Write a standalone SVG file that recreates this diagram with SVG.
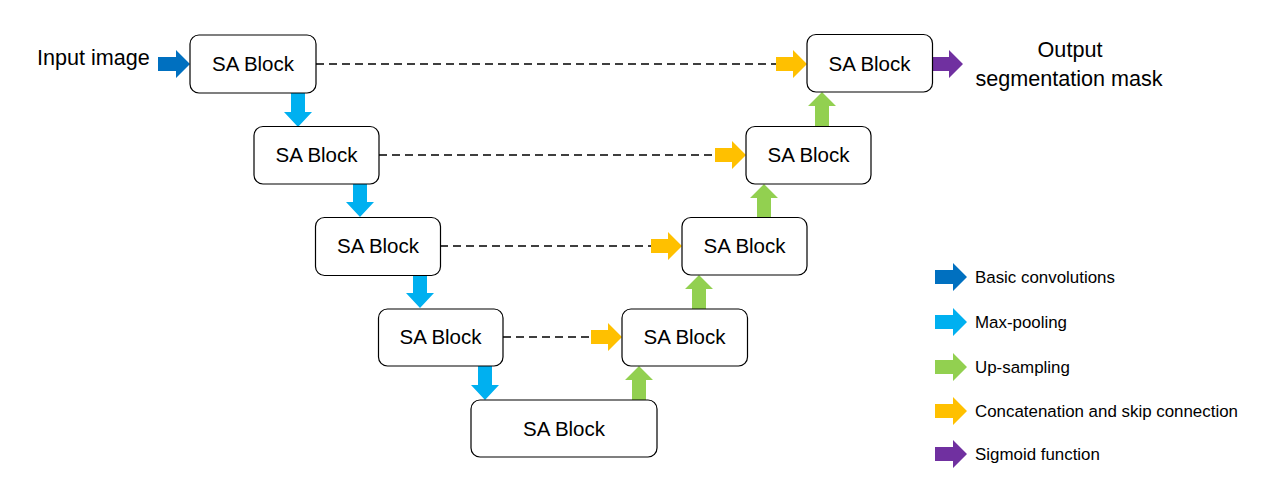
<svg xmlns="http://www.w3.org/2000/svg" width="1280" height="487" viewBox="0 0 1280 487">
<style>
.box{fill:#fff;stroke:#000;stroke-width:1.2}
.lbl{font-family:"Liberation Sans",Arial,sans-serif;font-size:20.5px;fill:#000;text-anchor:middle}
.txt{font-family:"Liberation Sans",Arial,sans-serif;font-size:21.6px;fill:#000}
.leg{font-family:"Liberation Sans",Arial,sans-serif;font-size:16.9px;fill:#000}
.dash{stroke:#000;stroke-width:1.6;stroke-dasharray:8 5;fill:none}
.conv{fill:#0070C0}.pool{fill:#00B0F0}.up{fill:#92D050}.cat{fill:#FFC000}.sig{fill:#7030A0}
</style>
<rect width="1280" height="487" fill="#fff"/>
<g id="connectors">
<line class="dash" x1="316" y1="64" x2="776" y2="64"/>
<line class="dash" x1="379" y1="155" x2="715" y2="155"/>
<line class="dash" x1="440" y1="246" x2="651" y2="246"/>
<line class="dash" x1="503" y1="337" x2="591" y2="337"/>
<polygon class="conv" points="158,57 176,57 176,50 190,64 176,78 176,71 158,71"/>
<polygon class="pool" points="291,93 305,93 305,112 312,112 298,127 284,112 291,112"/>
<polygon class="pool" points="353,184 367,184 367,202 374,202 360,217 346,202 353,202"/>
<polygon class="pool" points="413,276 427,276 427,293 434,293 420,308 406,293 413,293"/>
<polygon class="pool" points="478,366 492,366 492,385 499,385 485,400 471,385 478,385"/>
<polygon class="up" points="632,400 646,400 646,380 653,380 639,366 625,380 632,380"/>
<polygon class="up" points="692,309 706,309 706,289 713,289 699,275 685,289 692,289"/>
<polygon class="up" points="757,218 771,218 771,198 778,198 764,184 750,198 757,198"/>
<polygon class="up" points="815,127 829,127 829,106 836,106 822,92 808,106 815,106"/>
<polygon class="cat" points="776,57 793,57 793,50 807,64 793,78 793,71 776,71"/>
<polygon class="cat" points="715,148 732,148 732,141 746,155 732,169 732,162 715,162"/>
<polygon class="cat" points="651,239 668,239 668,232 682,246 668,260 668,253 651,253"/>
<polygon class="cat" points="591,330 608,330 608,323 622,337 608,351 608,344 591,344"/>
<polygon class="sig" points="932,57 949,57 949,50 963,64 949,78 949,71 932,71"/>
</g>
<g id="enc1"><rect class="box" x="190" y="35" width="126" height="58" rx="9"/><text class="lbl" x="253" y="71">SA Block</text></g>
<g id="enc2"><rect class="box" x="254" y="126.5" width="125" height="57.5" rx="9"/><text class="lbl" x="316.5" y="162">SA Block</text></g>
<g id="enc3"><rect class="box" x="315.5" y="217.5" width="125" height="58" rx="9"/><text class="lbl" x="378" y="253">SA Block</text></g>
<g id="enc4"><rect class="box" x="378.5" y="309" width="124.5" height="57" rx="9"/><text class="lbl" x="440.5" y="344">SA Block</text></g>
<g id="bottleneck"><rect class="box" x="471" y="400" width="186" height="57" rx="9"/><text class="lbl" x="564" y="435.5">SA Block</text></g>
<g id="dec4"><rect class="box" x="622" y="309" width="125.5" height="57" rx="9"/><text class="lbl" x="684.5" y="344">SA Block</text></g>
<g id="dec3"><rect class="box" x="682" y="217.5" width="125" height="57.5" rx="9"/><text class="lbl" x="744.5" y="253">SA Block</text></g>
<g id="dec2"><rect class="box" x="746" y="126.5" width="125" height="57.5" rx="9"/><text class="lbl" x="808.5" y="162">SA Block</text></g>
<g id="dec1"><rect class="box" x="807" y="34.5" width="125.5" height="57.5" rx="9"/><text class="lbl" x="869.5" y="70.5">SA Block</text></g>
<g id="input"><text class="txt" x="37" y="65">Input image</text></g>
<g id="output"><text class="txt" x="1070" y="57" text-anchor="middle">Output</text><text class="txt" x="1069" y="86" text-anchor="middle">segmentation mask</text></g>
<g id="legend">
<polygon class="conv" points="935,270 953,270 953,263 967,277 953,291 953,284 935,284"/>
<text class="leg" x="975" y="283">Basic convolutions</text>
<polygon class="pool" points="935,315 953,315 953,308 967,322 953,336 953,329 935,329"/>
<text class="leg" x="975" y="328">Max-pooling</text>
<polygon class="up" points="935,360 953,360 953,353 967,367 953,381 953,374 935,374"/>
<text class="leg" x="975" y="373">Up-sampling</text>
<polygon class="cat" points="935,404 953,404 953,397 967,411 953,425 953,418 935,418"/>
<text class="leg" x="975" y="417">Concatenation and skip connection</text>
<polygon class="sig" points="935,447 953,447 953,440 967,454 953,468 953,461 935,461"/>
<text class="leg" x="975" y="460">Sigmoid function</text>
</g>
</svg>
